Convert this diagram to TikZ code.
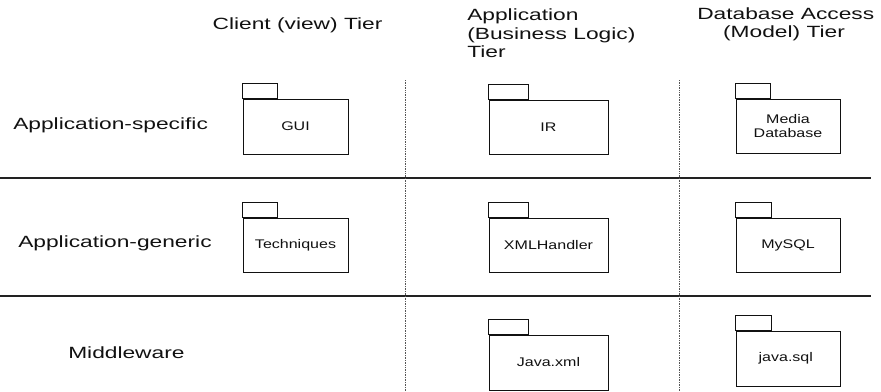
\documentclass[tikz,border=0pt]{standalone}
\usepackage{fontspec}
\usepackage{xcolor}
\usepackage{tikz}
\usetikzlibrary{positioning}
\setmainfont{Liberation Sans}
\newfontfamily\tierfont[FakeStretch=1.4]{Liberation Sans}
\newfontfamily\pkgfont[FakeStretch=1.28]{Liberation Sans}
\definecolor{Ink}{HTML}{111111}
\definecolor{Rule}{HTML}{222222}
\definecolor{Dots}{HTML}{555555}

\begin{document}
\begin{tikzpicture}[
  x=0.025cm, y=-0.025cm,
  tier/.style={font=\tierfont\fontsize{11.55}{13.1}\selectfont,text=Ink,inner sep=0pt},
  layer/.style={font=\tierfont\fontsize{11.55}{13.1}\selectfont,text=Ink,inner sep=0pt,anchor=west},
  pkg/.style={draw=Ink,line width=0.7pt,align=center,inner sep=0pt,
    font=\pkgfont\fontsize{8.9}{9.6}\selectfont,text=Ink},
  sep/.style={draw=Rule,line width=0.75pt},
  split/.style={draw=Dots,line width=0.6pt,dash pattern=on 0.6pt off 0.6pt}
]
\useasboundingbox (0,0) rectangle (881,391);

% tier headings
\node[tier] (client) at (297.5,25) {Client (view) Tier};
\node[tier,align=left,anchor=west] (business) at (467,33.5) {Application\\(Business Logic)\\Tier};
\node[tier,align=left,anchor=west] (model) at (697,24.5) {Database Access\\\hspace*{18.4pt}(Model) Tier};

% layer names
\node[layer] (specific) at (13,125) {Application-specific};
\node[layer] (generic) at (18,243) {Application-generic};
\node[layer] (middleware) at (68,353) {Middleware};

% grid
\draw[sep] (0,178) -- (871,178);
\draw[sep] (0,296) -- (871,296);
\draw[split] (405,80) -- (405,391);
\draw[split] (679,80) -- (679,391);

% packages: name / centre / body size / tab width / label
\foreach \name/\x/\y/\w/\h/\tab/\txt in {
  gui/295.5/126.5/105/55/35/GUI,
  ir/548.5/127/119/54/40/IR,
  media/788/126/104/54/35/{Media\\Database},
  techniques/295.5/245/105/54/35/Techniques,
  xmlhandler/548.5/245/119/54/40/XMLHandler,
  mysql/788/245/104/54/36/MySQL,
  javaxml/548.5/362.5/119/55/40/Java.xml,
  javasql/788/358.5/104/55/36/java.sql
} {
  \node[pkg,minimum width=\w*0.025cm,minimum height=\h*0.025cm] (\name) at (\x,\y) {\txt};
  \draw[draw=Ink,line width=0.7pt] (\name.north west) rectangle ++(\tab,-15);
}
\end{tikzpicture}
\end{document}
